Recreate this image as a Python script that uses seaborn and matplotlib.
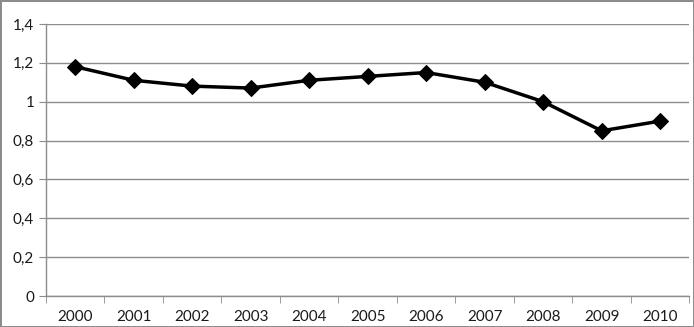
import numpy as np
import pandas as pd
import matplotlib
matplotlib.use('Agg')
import matplotlib.pyplot as plt
import seaborn as sns
from matplotlib.ticker import FuncFormatter, FixedLocator

years = ['2000', '2001', '2002', '2003', '2004', '2005',
         '2006', '2007', '2008', '2009', '2010']
values = [1.18, 1.11, 1.08, 1.07, 1.11, 1.13, 1.15, 1.10, 1.00, 0.85, 0.90]
yticks = [0, 0.2, 0.4, 0.6, 0.8, 1.0, 1.2, 1.4]

sns.set_style('white')
plt.rcParams['font.family'] = ['Lato', 'DejaVu Sans']

df = pd.DataFrame({'year': years, 'value': values})

fig = plt.figure(figsize=(6.94, 3.27), dpi=100)
fig.patch.set_edgecolor('#8c8c8c')
fig.patch.set_linewidth(2)
ax = fig.add_axes([0.0663, 0.0948, 0.927, 0.832])

sns.lineplot(data=df, x='year', y='value', ax=ax, color='black',
             linewidth=2.5, marker='D', markersize=8,
             markeredgecolor='black', sort=False)

ax.set_ylim(0, 1.4)
ax.set_xlim(-0.5, len(years) - 0.5)
ax.set_yticks(yticks)
ax.yaxis.set_major_formatter(FuncFormatter(
    lambda v, p: ('%g' % round(v, 1)).replace('.', ',')))
ax.yaxis.grid(True, color='#8c8c8c', linewidth=1)
ax.set_axisbelow(True)

# tick marks between categories
ax.xaxis.set_minor_locator(FixedLocator(np.arange(-0.5, len(years), 1)))
ax.tick_params(axis='x', which='minor', length=5, color='#8c8c8c',
               direction='out', bottom=True)
ax.tick_params(axis='x', which='major', length=0, pad=10)
ax.tick_params(axis='y', length=5, color='#8c8c8c', direction='out', left=True)
ax.tick_params(labelsize=11, labelcolor='#1a1a1a')

for s in ['top', 'right']:
    ax.spines[s].set_visible(False)
for s in ['left', 'bottom']:
    ax.spines[s].set_color('#8c8c8c')
    ax.spines[s].set_linewidth(1)

ax.set_xlabel('')
ax.set_ylabel('')

fig.savefig('out.png', dpi=100)
